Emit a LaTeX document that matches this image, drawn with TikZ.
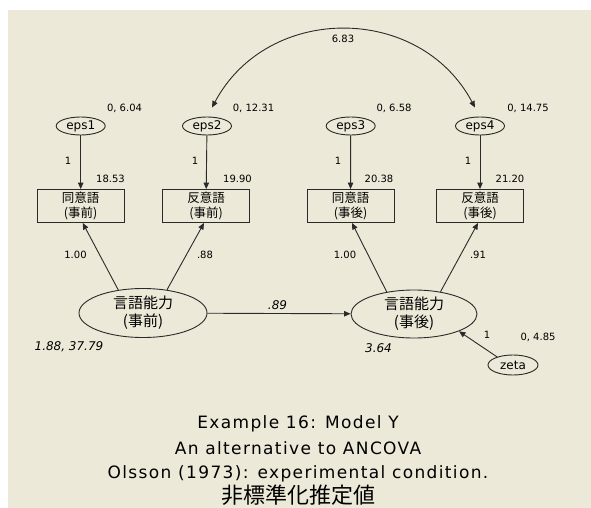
\documentclass[tikz,border=0pt]{standalone}
\usepackage{fontspec}
\setmainfont{DejaVu Sans}
\newfontfamily\jp{Noto Sans CJK JP}
\newfontfamily\capfont{DejaVu Sans}[LetterSpace=8]
\usetikzlibrary{arrows.meta, positioning, shapes.geometric, calc}
\definecolor{amosbg}{HTML}{ECE9D8}
\definecolor{ink}{HTML}{2A2A2A}

\begin{document}
\begin{tikzpicture}[
  x=1pt, y=-1pt,
  err/.style={draw=ink, line width=0.9pt, ellipse, inner sep=0pt, minimum width=49pt, minimum height=18pt, font=\fontsize{12}{12}\selectfont},
  obs/.style={draw=ink, line width=0.9pt, rectangle, minimum width=87pt, minimum height=33pt, inner sep=0pt, align=center, font=\jp\fontsize{12.5}{15}\selectfont},
  lat/.style={draw=ink, line width=0.9pt, ellipse, minimum width=128pt, minimum height=49pt, inner sep=0pt, align=center, font=\jp\fontsize{15}{18}\selectfont},
  edge/.style={-{Triangle[length=6.5pt,width=5.5pt]}, draw=ink, line width=0.9pt},
  cov/.style={{Triangle[length=6.5pt,width=5.5pt]}-{Triangle[length=6.5pt,width=5.5pt]}, draw=ink, line width=0.9pt},
  lab/.style={font=\fontsize{10}{10}\selectfont, inner sep=0pt},
  est/.style={font=\itshape\fontsize{12}{12}\selectfont, inner sep=0pt},
  title/.style={font=\capfont\fontsize{17}{17}\selectfont, inner sep=0pt, anchor=base}
]
\fill[white] (0,0) rectangle (591,508);
\fill[amosbg] (8,10) rectangle (591,508);
\useasboundingbox (0,0) rectangle (591,508);

% error terms
\node[err] (eps1) at (80.7,126) {eps1};
\node[err] (eps2) at (207,126) {eps2};
\node[err] (eps3) at (350.7,126) {eps3};
\node[err] (eps4) at (480,126) {eps4};

% observed variables
\node[obs] (dou1) at (80.7,206) {同意語\\(事前)};
\node[obs] (han1) at (206,206) {反意語\\(事前)};
\node[obs] (dou2) at (350.5,206) {同意語\\(事後)};
\node[obs] (han2) at (480,206) {反意語\\(事後)};

% latent variables
\node[lat] (pre) at (143,313) {言語能力\\(事前)};
\node[lat, minimum width=126pt, minimum height=48pt] (post) at (414,314) {言語能力\\(事後)};
\node[err, minimum width=50pt, minimum height=20pt] (zeta) at (513,365) {zeta};

\draw[edge] (eps1) -- (dou1);
\draw[edge] (eps2) -- (han1);
\draw[edge] (eps3) -- (dou2);
\draw[edge] (eps4) -- (han2);
\draw[edge] (pre.137) -- ([xshift=2pt]dou1.south);
\draw[edge] (pre.44) -- ([xshift=-2pt]han1.south);
\draw[edge] (post.141) -- ([xshift=1.5pt]dou2.south);
\draw[edge] (post.40) -- ([xshift=-2pt]han2.south);
\draw[edge] (pre) -- (post);
\draw[edge] (zeta.153) -- (post.-21);
\draw[cov] ([xshift=5pt,yshift=9pt]eps2.north) to[out=62, in=118, looseness=1.15] ([xshift=-5pt,yshift=9pt]eps4.north);

% estimates
\node[lab] (v1) at (124.5,108.5) {0, 6.04};
\node[lab] (v2) at (253.5,108.5) {0, 12.31};
\node[lab] (v3) at (394,108) {0, 6.58};
\node[lab] (v4) at (528,108) {0, 14.75};
\node[lab] (w1) at (68,161) {1};
\node[lab] (w2) at (195,161) {1};
\node[lab] (w3) at (338,161) {1};
\node[lab] (w4) at (468,161) {1};
\node[lab] (i1) at (110.5,178.5) {18.53};
\node[lab] (i2) at (237.5,178.5) {19.90};
\node[lab] (i3) at (379,178.5) {20.38};
\node[lab] (i4) at (510,178.5) {21.20};
\node[lab] (l1) at (75.5,254.5) {1.00};
\node[lab] (l2) at (205,254.5) {.88};
\node[lab] (l3) at (345,254.5) {1.00};
\node[lab] (l4) at (478,254.5) {.91};
\node[lab] (c1) at (343,39) {6.83};
\node[lab] (wz) at (487,335) {1};
\node[lab] (vz) at (538,337.5) {0, 4.85};
\node[est] (b1) at (277.5,305) {.89};
\node[est] (m1) at (69,346.5) {1.88, 37.79};
\node[est] (m2) at (378.5,348) {3.64};

% caption
\node[title] (t1) at (298,428) {Example 16:  Model Y};
\node[title] (t2) at (298,454) {An alternative to ANCOVA};
\node[title] (t3) at (298,478) {Olsson (1973): experimental condition.};
\node[font=\jp\fontsize{22}{22}\selectfont, inner sep=0pt] (t4) at (298,495) {非標準化推定値};
\end{tikzpicture}
\end{document}
